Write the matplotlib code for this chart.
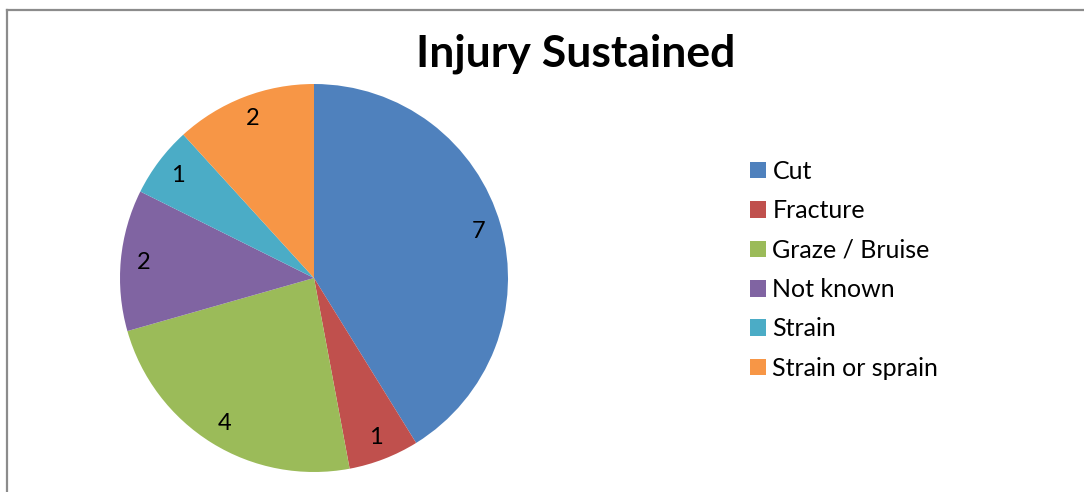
import matplotlib
matplotlib.use('Agg')
import matplotlib.pyplot as plt
from matplotlib.lines import Line2D

plt.rcParams['font.family'] = ['Lato', 'DejaVu Sans']

# data
categories = ['Cut', 'Fracture', 'Graze / Bruise', 'Not known', 'Strain', 'Strain or sprain']
counts = [7, 1, 4, 2, 1, 2]
colors = ['#4F81BD', '#C0504D', '#9BBB59', '#8064A2', '#4BACC6', '#F79646']

W, H = 1084, 492
fig = plt.figure(figsize=(W / 100, H / 100), dpi=100)

# pie axes: centre (314, 278) px, radius 194 px
cx, cy, r = 314, 278, 194
ax = fig.add_axes([(cx - r) / W, (H - cy - r) / H, 2 * r / W, 2 * r / H])
total = sum(counts)
wedges, texts = ax.pie(counts, colors=colors, startangle=90, counterclock=False,
                       radius=1, wedgeprops=dict(linewidth=0),
                       autopct=lambda p: '%d' % round(p * total / 100),
                       pctdistance=0.88, textprops=dict(fontsize=17, color='black'))[:2]
ax.set_xlim(-1, 1)
ax.set_ylim(-1, 1)
ax.set_aspect('equal')
ax.axis('off')

fig.text(576 / W, 1 - 54 / H, 'Injury Sustained', ha='center', va='center',
         fontsize=32, fontweight='bold')

fig.legend(wedges, categories, loc='upper left', bbox_to_anchor=(750 / W, 1 - 160 / H),
           frameon=False, fontsize=18, handlelength=0.64, handleheight=0.64,
           handletextpad=0.26, labelspacing=0.655, borderaxespad=0, borderpad=0)

# chart border (only top and left visible in the crop)
fig.add_artist(Line2D([7 / W, 7 / W], [0, 1 - 10 / H], color='#8c8c8c', linewidth=1.6,
                      transform=fig.transFigure))
fig.add_artist(Line2D([7 / W, 1], [1 - 10 / H, 1 - 10 / H], color='#8c8c8c', linewidth=1.6,
                      transform=fig.transFigure))

fig.savefig('out.png', dpi=100)
